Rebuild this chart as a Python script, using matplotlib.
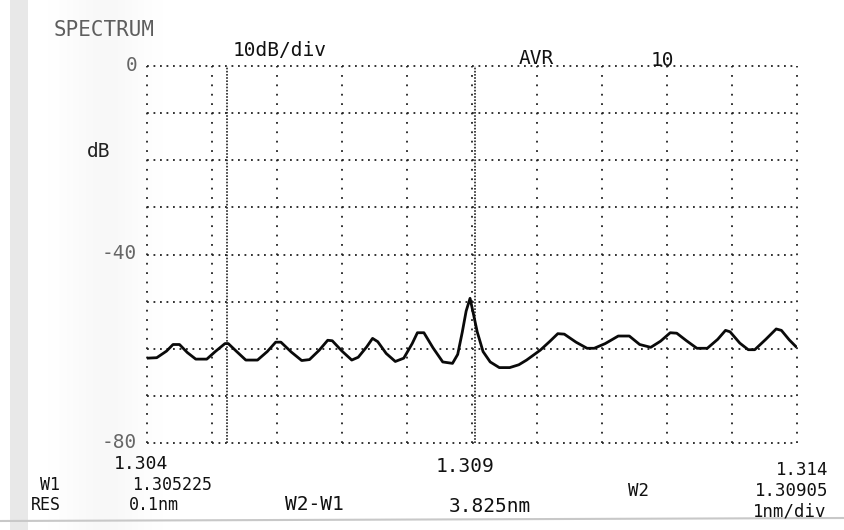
import numpy as np
import matplotlib
matplotlib.use("Agg")
import matplotlib.pyplot as plt
import matplotlib.transforms as mtransforms

# ---------------- data ----------------
wavelength_um = [
    1.30400, 1.30415, 1.30430, 1.30440, 1.30450, 1.30462, 1.30475, 1.30492,
    1.30505, 1.30520, 1.30525, 1.30538, 1.30552, 1.30570, 1.30585, 1.30598,
    1.30606, 1.30622, 1.30638, 1.30650, 1.30665, 1.30678, 1.30685, 1.30700,
    1.30715, 1.30725, 1.30738, 1.30747, 1.30755, 1.30768, 1.30782, 1.30795,
    1.30808, 1.30816, 1.30826, 1.30840, 1.30855, 1.30870, 1.30878, 1.30885,
    1.30891, 1.30897, 1.30902, 1.30908, 1.30917, 1.30928, 1.30942, 1.30958,
    1.30972, 1.30984, 1.31005, 1.31020, 1.31032, 1.31042, 1.31060, 1.31077,
    1.31088, 1.31105, 1.31125, 1.31142, 1.31158, 1.31175, 1.31190, 1.31205,
    1.31215, 1.31230, 1.31246, 1.31262, 1.31278, 1.31290, 1.31297, 1.31312,
    1.31325, 1.31335, 1.31352, 1.31368, 1.31376, 1.31388, 1.31398,
]
level_db = [
    -62.0, -61.9, -60.5, -59.1, -59.1, -60.8, -62.2, -62.2,
    -60.6, -58.9, -58.9, -60.6, -62.4, -62.4, -60.6, -58.6,
    -58.6, -60.7, -62.5, -62.3, -60.3, -58.2, -58.3, -60.5,
    -62.4, -61.8, -59.6, -57.8, -58.5, -61.0, -62.7, -62.0,
    -58.9, -56.6, -56.6, -59.8, -62.8, -63.1, -61.2, -56.5,
    -52.0, -49.3, -52.5, -56.4, -60.6, -62.8, -64.0, -64.0,
    -63.4, -62.4, -60.3, -58.4, -56.8, -56.9, -58.6, -59.9,
    -59.9, -58.9, -57.3, -57.3, -59.1, -59.7, -58.4, -56.6,
    -56.7, -58.3, -59.9, -59.9, -58.0, -56.1, -56.4, -58.8,
    -60.2, -60.2, -58.0, -55.8, -56.1, -58.1, -59.5,
]

x_start, x_stop = 1.304, 1.314
x_grid = [1.304 + 0.001 * i for i in range(11)]
y_grid = [0, -10, -20, -30, -40, -50, -60, -70, -80]
y_ticks = [0, -40, -80]
y_tick_labels = ["0", "-40", "-80"]
x_tick_labels = ["1.304", "1.309", "1.314"]
marker_w1 = 1.305225
marker_w2 = 1.30905

# ---------------- figure ----------------
W, H = 844, 530
fig = plt.figure(figsize=(W / 100, H / 100), dpi=100)
fig.patch.set_facecolor("white")

# faint scan shading in the background
bg = fig.add_axes([0, 0, 1, 1], zorder=-10)
bg.set_xlim(0, W)
bg.set_ylim(H, 0)
bg.axis("off")
cols = np.arange(W, dtype=float)
row = 1.0 - 0.03 * np.exp(-((cols - 105) / 40.0) ** 2)
row[(cols >= 10) & (cols < 28)] = 0.91
shade = np.tile(row, (10, 1))
bg.imshow(shade, cmap="gray", vmin=0, vmax=1, extent=[0, W, H, 0], aspect="auto")
bg.plot([0, W], [521, 518], color="#c8c8c8", lw=1.5)

L, R, T, B = 147, 797, 66, 443
ax = fig.add_axes([L / W, 1 - B / H, (R - L) / W, (B - T) / H])
ax.set_xlim(x_start, x_stop)
ax.set_ylim(-80, 0)
ax.patch.set_alpha(0)
for s in ax.spines.values():
    s.set_visible(False)

dot = "#222222"
for yv in y_grid:
    ax.axhline(yv, color=dot, lw=1.3, ls=(0, (1, 2.6)), clip_on=False, zorder=1)
for xv in x_grid:
    ax.axvline(xv, color=dot, lw=1.3, ls=(0, (1, 4.2)), clip_on=False, zorder=1)
for xv in (marker_w1, marker_w2):
    ax.axvline(xv, color=dot, lw=1.2, ls=(0, (1, 0.9)), clip_on=False, zorder=1)

ax.plot(wavelength_um, level_db, color="#0a0a0a", lw=2.0, zorder=3)

mono = "DejaVu Sans Mono"
ax.set_xticks([])
ax.set_yticks(y_ticks)
ax.set_yticklabels(y_tick_labels, family=mono, fontsize=14, color="#666666")
ax.tick_params(axis="y", length=0, pad=7)
shift_up = mtransforms.ScaledTranslation(0, 3 / 100, fig.dpi_scale_trans)
for lab in ax.get_yticklabels():
    lab.set_transform(lab.get_transform() + shift_up)


def ftext(x, y, s, size=12, color="#111111", ha="center"):
    fig.text(x / W, 1 - y / H, s, ha=ha, va="center", family=mono,
             fontsize=size, color=color)


# wavelength scale labels (start / centre / stop)
ftext(141, 464, x_tick_labels[0], size=13)
ftext(465, 466, x_tick_labels[1], size=14)
ftext(828, 470, x_tick_labels[2], size=12.5, ha="right")

ftext(104, 30, "SPECTRUM", size=15, color="#5e5e5e")
ftext(280, 50, "10dB/div", size=14)
ftext(536, 58, "AVR", size=14)
ftext(662, 60, "10", size=14)
ftext(99, 152, "dB", size=14, color="#222222")
ftext(50, 485, "W1")
ftext(172, 485, "1.305225")
ftext(46, 505, "RES")
ftext(154, 505, "0.1nm")
ftext(314, 504, "W2-W1", size=14)
ftext(490, 507, "3.825nm", size=14)
ftext(638, 491, "W2", size=12.5)
ftext(828, 491, "1.30905", size=12.5, ha="right")
ftext(826, 512, "1nm/div", size=12.5, ha="right")

fig.savefig("out.png", dpi=100, facecolor="white")
